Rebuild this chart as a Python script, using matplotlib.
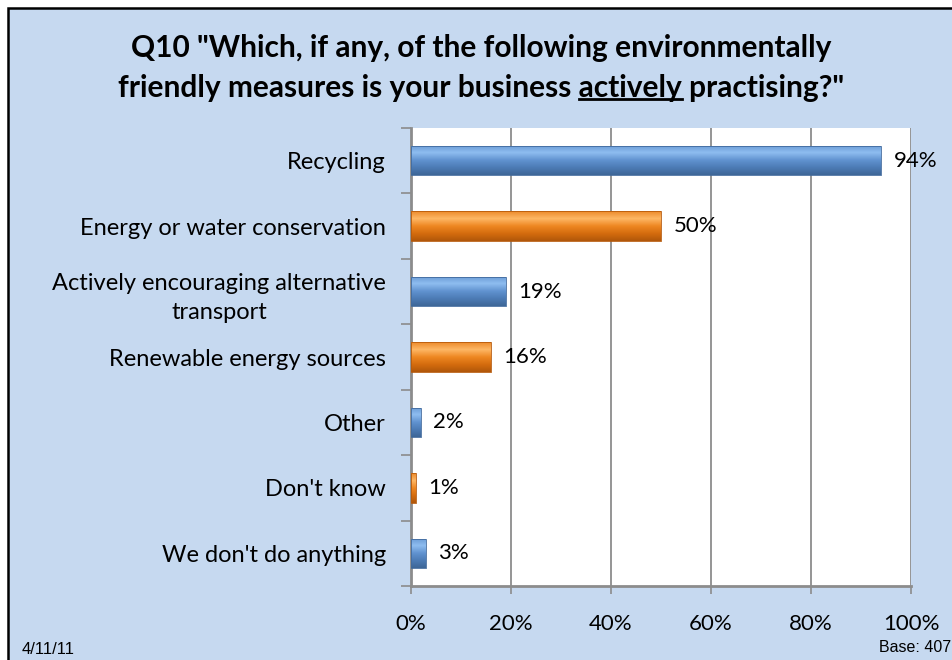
import numpy as np
import matplotlib
matplotlib.use('Agg')
import matplotlib.pyplot as plt
from matplotlib.colors import LinearSegmentedColormap
from matplotlib.patches import Rectangle
from matplotlib.ticker import FixedLocator, NullFormatter, FixedFormatter

# data
categories = ["Recycling", "Energy or water conservation",
              "Actively encouraging alternative\ntransport",
              "Renewable energy sources", "Other", "Don't know",
              "We don't do anything"]
values = [94, 50, 19, 16, 2, 1, 3]
series_colour = ["blue", "orange", "blue", "orange", "blue", "orange", "blue"]
x_ticks = [0, 20, 40, 60, 80, 100]
x_labels = ["0%", "20%", "40%", "60%", "80%", "100%"]

BG = "#C6D9F0"
GRID = "#8C8C8C"
FONT = "Lato"
TITLE_FS = 21.5
LABEL_FS = 17
VALUE_FS = 16

# gradient cmaps for 3d-ish bars (bottom -> top)
cmaps = {
    "blue": LinearSegmentedColormap.from_list(
        "b", ["#3E6697", "#4C7BB5", "#6193D0", "#8EBDF0", "#6A9AD4"]),
    "orange": LinearSegmentedColormap.from_list(
        "o", ["#B0560A", "#D46C0E", "#EE8722", "#FDB765", "#EC8A2A"]),
}

W, H = 953, 660
fig = plt.figure(figsize=(W / 100, H / 100), dpi=100)
fig.patch.set_facecolor("white")

# light blue chart background with black frame (cut off on right/bottom)
frame = Rectangle((8 / W, -0.01), 1.0, (H - 8) / H + 0.01, transform=fig.transFigure,
                  facecolor=BG, edgecolor="black", linewidth=1.8, zorder=-1)
fig.patches.append(frame)

ax = fig.add_axes([411 / W, (H - 586) / H, 500 / W, (586 - 128) / H])
ax.set_zorder(2)
ax.set_facecolor("white")

y = np.arange(len(categories))
bars = ax.barh(y, values, height=0.45, color="none", zorder=3)

# top row of image = top of bar on screen -> highlight colours
grad = np.linspace(1, 0, 256).reshape(-1, 1)
for rect, c in zip(bars, series_colour):
    x0, y0 = rect.get_x(), rect.get_y()
    w, h = rect.get_width(), rect.get_height()
    im = ax.imshow(grad, cmap=cmaps[c], aspect="auto", origin="upper",
                   extent=[x0, x0 + w, y0 + h, y0], zorder=3)
    im.set_clip_path(rect)
    ax.add_patch(Rectangle((x0, y0), w, h, facecolor="none",
                           edgecolor=cmaps[c](0.05), linewidth=0.6, zorder=4))

ax.set_xlim(0, 100)
ax.set_ylim(len(categories) - 0.5, -0.5)

# value labels
for yi, v in zip(y, values):
    ax.annotate(f"{v}%", (v, yi), xytext=(9, 0), textcoords="offset points",
                ha="left", va="center", fontsize=VALUE_FS, family=FONT, zorder=5)

# x axis
ax.set_xticks(x_ticks)
ax.set_xticklabels(x_labels, fontsize=VALUE_FS, family=FONT)
ax.tick_params(axis="x", length=6, width=1.2, color=GRID, pad=14, direction="out")
ax.xaxis.grid(True, color=GRID, linewidth=1.3)
ax.set_axisbelow(True)

# y axis: ticks between categories, labels at centres
ax.yaxis.set_major_locator(FixedLocator(np.arange(-0.5, len(categories), 1.0)))
ax.yaxis.set_major_formatter(NullFormatter())
ax.yaxis.set_minor_locator(FixedLocator(y))
ax.yaxis.set_minor_formatter(FixedFormatter(categories))
ax.tick_params(axis="y", which="major", length=7, width=1.2, color=GRID)
ax.tick_params(axis="y", which="minor", length=0, pad=18)
for lbl in ax.yaxis.get_minorticklabels():
    lbl.set_fontsize(LABEL_FS)
    lbl.set_family(FONT)
    lbl.set_multialignment("center")
    lbl.set_linespacing(1.5)

for s in ["top", "right"]:
    ax.spines[s].set_visible(False)
for s in ["left", "bottom"]:
    ax.spines[s].set_color(GRID)
    ax.spines[s].set_linewidth(2)

# title with underlined word
tx = 481 / W
fig.text(tx, 1 - 48 / H, 'Q10 "Which, if any, of the following environmentally',
         ha="center", va="center", fontsize=TITLE_FS, fontweight="bold", family=FONT)
line2 = 'friendly measures is your business actively practising?"'
t2 = fig.text(tx, 1 - 88 / H, line2, ha="center", va="center",
              fontsize=TITLE_FS, fontweight="bold", family=FONT)

fig.canvas.draw()
r = fig.canvas.get_renderer()
bb = t2.get_window_extent(r)
def text_w(s):
    t = fig.text(0, 0, s, fontsize=TITLE_FS, fontweight="bold", family=FONT)
    w = t.get_window_extent(r).width
    t.remove()
    return w
w_pre = text_w("friendly measures is your business actively")
w_word = text_w("actively")
ux0 = (bb.x0 + w_pre - w_word) / W
ux1 = (bb.x0 + w_pre) / W
uy = (bb.y0 + 3) / H
fig.add_artist(plt.Line2D([ux0, ux1], [uy, uy], transform=fig.transFigure,
                          color="black", linewidth=2))

# footer notes
fig.text(22 / W, 1 - 654 / H, "4/11/11", fontsize=12, family="Liberation Sans",
         ha="left", va="baseline")
fig.text(951 / W, 1 - 652 / H, "Base: 407", fontsize=11.5, family="Liberation Sans",
         ha="right", va="baseline")

fig.savefig("out.png", dpi=100, facecolor=fig.get_facecolor())
